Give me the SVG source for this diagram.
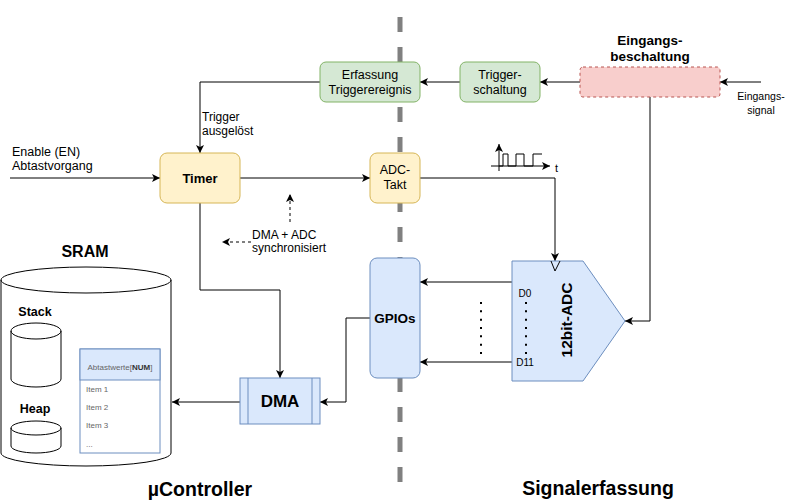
<svg xmlns="http://www.w3.org/2000/svg" width="788" height="503" viewBox="0 0 788 503">
<style>
text{font-family:"Liberation Sans",Arial,Helvetica,sans-serif;fill:#000}
.c{text-anchor:middle}
.b{font-weight:bold}
.ln{fill:none;stroke:#000;stroke-width:1}
.dash{stroke-dasharray:3 3}
.dots{fill:none;stroke:#000;stroke-width:2;stroke-dasharray:2 6.33}
.green{fill:#d5e8d4;stroke:#82b366}
.yellow{fill:#fff2cc;stroke:#d6b656}
.blue{fill:#dae8fc;stroke:#6c8ebf}
.red{fill:#f8cecc;stroke:#b85450;stroke-dasharray:3 3}
.cyl{fill:#fff;stroke:#000}
.small{font-size:8px;fill:#666}
</style>
<defs>
<marker id="arr" markerUnits="userSpaceOnUse" markerWidth="9" markerHeight="9" viewBox="0 0 9 9" refX="8" refY="4.5" orient="auto">
<path d="M0,0.5 L8,4.5 L0,8.5 L2,4.5 Z" fill="#000"/>
</marker>
</defs>
<rect width="788" height="503" fill="#fff"/>
<line id="divider" x1="400" y1="17" x2="400" y2="482" stroke="#808080" stroke-width="5" stroke-dasharray="15 15"/>

<g id="connectors">
<path class="ln" d="M320,82 H200 V153" marker-end="url(#arr)"/>
<path class="ln" d="M460,82 H420" marker-end="url(#arr)"/>
<path class="ln" d="M580,82 H540" marker-end="url(#arr)"/>
<path class="ln" d="M761,82 H720" stroke="#333" marker-end="url(#arr)"/>
<path class="ln" d="M10,178 H160" marker-end="url(#arr)"/>
<path class="ln" d="M240,178 H370" marker-end="url(#arr)"/>
<path class="ln" d="M420,178 H555 V261" marker-end="url(#arr)"/>
<path class="ln" d="M650,97 V321 H625" marker-end="url(#arr)"/>
<path class="ln" d="M200,203 V290 H280 V378" marker-end="url(#arr)"/>
<path class="ln" d="M512,282 H420" marker-end="url(#arr)"/>
<path class="ln" d="M512,362 H420" marker-end="url(#arr)"/>
<path class="ln" d="M370,318 H346 V402 H320" marker-end="url(#arr)"/>
<path class="ln" d="M240,402 H172" marker-end="url(#arr)"/>
<path class="ln dash" d="M290,222 V194" marker-end="url(#arr)"/>
<path class="ln dash" d="M251,242 H222" marker-end="url(#arr)"/>
<line class="dots" x1="481" y1="302" x2="481" y2="354"/>
</g>

<g id="labels">
<text x="12" y="156" font-size="12.5">Enable (EN)</text>
<text x="12" y="170" font-size="12.5">Abtastvorgang</text>
<text x="202" y="121" font-size="12">Trigger</text>
<text x="202" y="135" font-size="12">ausgelöst</text>
<text x="252" y="239" font-size="12">DMA + ADC</text>
<text x="252" y="252" font-size="12">synchronisiert</text>
<text class="c" x="761" y="100" font-size="10.5">Eingangs-</text>
<text class="c" x="761" y="114" font-size="10.5">signal</text>
<text class="c b" x="650" y="45" font-size="13.5">Eingangs-</text>
<text class="c b" x="650" y="61" font-size="13.5">beschaltung</text>
<text class="c b" x="200" y="496" font-size="19.5">µController</text>
<text class="c b" x="598" y="495" font-size="19.5">Signalerfassung</text>
</g>

<g id="clock">
<path class="ln" d="M491,166 H550" marker-end="url(#arr)"/>
<path class="ln" d="M499,171 V144" marker-end="url(#arr)"/>
<path class="ln" d="M499,166 H503 V154 H508 V166 H516 V154 H524 V166 H533 V154 H542" stroke="#333"/>
<text x="555" y="172" font-size="11">t</text>
</g>

<g id="erfassung">
<rect class="green" x="320" y="62" width="100" height="40" rx="6"/>
<text class="c" x="370" y="79" font-size="12.5">Erfassung</text>
<text class="c" x="370" y="94" font-size="12.5">Triggerereignis</text>
</g>
<g id="triggerschaltung">
<rect class="green" x="460" y="62" width="80" height="40" rx="6"/>
<text class="c" x="500" y="79" font-size="12.5">Trigger-</text>
<text class="c" x="500" y="94" font-size="12.5">schaltung</text>
</g>
<g id="eingangsbeschaltung">
<rect class="red" x="580" y="67" width="140" height="30" rx="3"/>
</g>
<g id="timer">
<rect class="yellow" x="160" y="153" width="80" height="50" rx="7"/>
<text class="c b" x="200" y="183" font-size="13">Timer</text>
</g>
<g id="adc-takt">
<rect class="yellow" x="370" y="153" width="50" height="50" rx="7"/>
<text class="c" x="395" y="174" font-size="12.5">ADC-</text>
<text class="c" x="395" y="189" font-size="12.5">Takt</text>
</g>
<g id="gpios">
<rect class="blue" x="370" y="258" width="50" height="120" rx="7"/>
<text class="c b" x="395" y="323" font-size="13.5">GPIOs</text>
</g>
<g id="adc">
<polygon class="blue" points="512,261 583,261 625,321 583,381 512,381"/>
<path d="M551,261 L555,271 L560,261" fill="none" stroke="#000"/>
<text class="c b" transform="translate(572,320) rotate(-90)" font-size="15.5">12bit-ADC</text>
<text class="c" x="525" y="297" font-size="10">D0</text>
<text class="c" x="525" y="366" font-size="10">D11</text>
<line class="dots" x1="526" y1="302" x2="526" y2="354"/>
</g>
<g id="dma">
<rect class="blue" x="240" y="378" width="80" height="46"/>
<line x1="248" y1="378" x2="248" y2="424" stroke="#6c8ebf"/>
<line x1="312" y1="378" x2="312" y2="424" stroke="#6c8ebf"/>
<text class="c b" x="280" y="407" font-size="17">DMA</text>
</g>
<g id="sram">
<text class="c b" x="85" y="257" font-size="16">SRAM</text>
<path class="cyl" d="M1,280 a85,13 0 0 1 170,0 v173 a85,13 0 0 1 -170,0 z"/>
<path class="ln" d="M1,280 a85,13 0 0 0 170,0"/>
<text class="c b" x="35" y="316" font-size="12.5">Stack</text>
<path class="cyl" d="M11,331 a25,8 0 0 1 50,0 v48 a25,8 0 0 1 -50,0 z"/>
<path class="ln" d="M11,331 a25,8 0 0 0 50,0"/>
<text class="c b" x="35" y="413" font-size="12.5">Heap</text>
<path class="cyl" d="M11,428 a25,7 0 0 1 50,0 v18 a25,7 0 0 1 -50,0 z"/>
<path class="ln" d="M11,428 a25,7 0 0 0 50,0"/>
</g>
<g id="abtastwerte">
<rect x="80" y="349" width="80" height="104" fill="#fff" stroke="#6c8ebf"/>
<rect class="blue" x="80" y="349" width="80" height="31"/>
<text class="c small" x="120" y="369.5">Abtastwerte[<tspan font-weight="bold" fill="#333">NUM</tspan>]</text>
<text class="small" x="86" y="392" fill="#808080">Item 1</text>
<text class="small" x="86" y="410" fill="#808080">Item 2</text>
<text class="small" x="86" y="428" fill="#808080">Item 3</text>
<text class="small" x="86" y="447" fill="#808080">...</text>
</g>
</svg>
